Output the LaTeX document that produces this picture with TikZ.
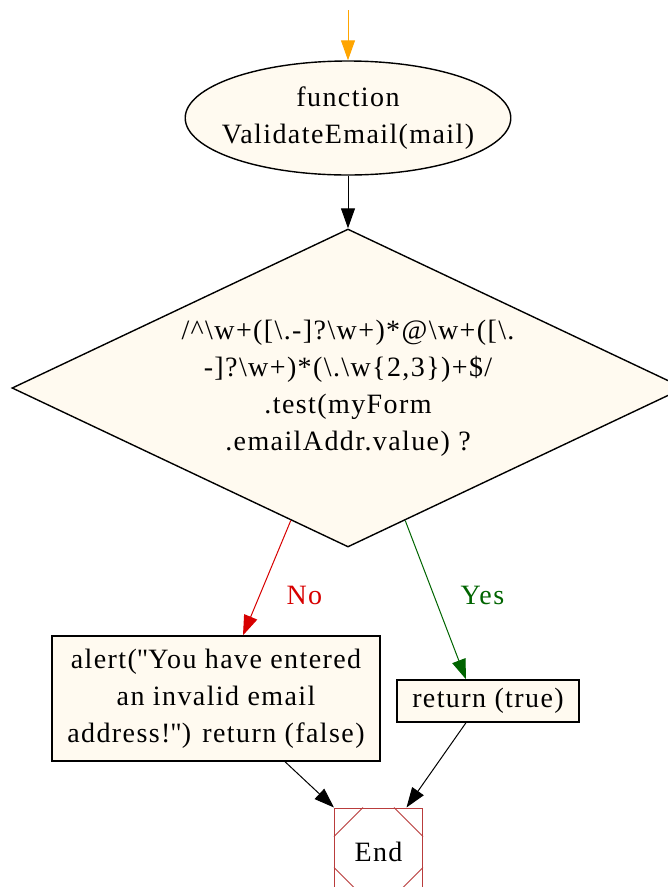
\documentclass[tikz,border=0pt]{standalone}
\usepackage{fontspec}
\setmainfont{Liberation Serif}[LetterSpace=5]
\usetikzlibrary{arrows.meta, calc}
\usetikzlibrary{shapes.geometric}
\definecolor{nodefill}{RGB}{255,250,240}
\definecolor{noRed}{RGB}{215,0,0}
\definecolor{yesGreen}{RGB}{0,100,0}
\definecolor{startOrange}{RGB}{255,165,0}
\definecolor{endRed}{RGB}{185,60,60}
\newcommand{\bsl}{\textbackslash}

\begin{document}
\begin{tikzpicture}[x=1pt,y=-1pt,
  every node/.style={font=\fontsize{28}{37}\selectfont, align=center},
  box/.style={draw, fill=nodefill, line width=1.4pt, inner sep=0pt},
  flow/.style={line width=1pt, -{Triangle[length=20pt,width=14pt]}}]
\clip (0,0) rectangle (668,887);

\coordinate (entry) at (348,10);
\node[box, ellipse, inner xsep=-11pt, minimum width=322pt, minimum height=114pt] (func) at (348,118)
  {function\\ValidateEmail(mail)};
\node[box, diamond, shape aspect=2.1, minimum width=672pt, minimum height=318pt] (test) at (348,388)
  {/\textasciicircum\bsl w+([\bsl.-]?\bsl w+)*@\bsl w+([\bsl.\\
   -]?\bsl w+)*(\bsl.\bsl w\{2,3\})+\$/\\
   .test(myForm\\
   .emailAddr.value) ?};
\node[box, minimum width=328pt, minimum height=125pt] (alert) at (216,698.5)
  {alert(\textquotedbl You have entered\\an invalid email\\address!\textquotedbl) return (false)};
\node[box, minimum width=182pt, minimum height=42pt] (ret) at (488,701) {return (true)};
\node[draw=endRed, fill=white, line width=1pt, minimum size=88pt, inner sep=0pt] (end) at (378.5,852) {End};
\foreach \c/\sx/\sy in {north west/1/-1, north east/-1/-1, south west/1/1, south east/-1/1}
  \draw[endRed, line width=1pt] ([xshift=\sx*29pt]end.\c) -- ([yshift=\sy*29pt]end.\c);

%%%%%%%%%% edges
\draw[flow, startOrange] (entry) -- (func);
\draw[flow] (func) -- (test);
\draw[flow, noRed] ($(test.south)!0.17!(test.west)$) -- node[pos=0.65, right=23pt] {No} ([xshift=27pt]alert.north);
\draw[flow, yesGreen] ($(test.south)!0.17!(test.east)$) -- node[pos=0.47, right=23pt] {Yes} ([xshift=-22pt]ret.north);
\draw[flow] ([xshift=69pt]alert.south) -- (end.north west);
\draw[flow] ([xshift=-22pt]ret.south) -- ([xshift=28pt]end.north);
\end{tikzpicture}
\end{document}
